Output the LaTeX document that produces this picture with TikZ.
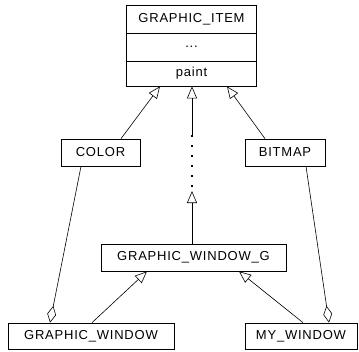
\documentclass[tikz,border=0pt]{standalone}
\usepackage{fontspec}
\setmainfont{Liberation Sans}[LetterSpace=6]
\usetikzlibrary{arrows.meta}
\begin{document}
\begin{tikzpicture}[x=1pt,y=-1pt,
  box/.style={draw,line width=0.7pt,inner sep=0pt,font=\fontsize{13}{15}\selectfont},
  conn/.style={line width=0.6pt},
  inh/.style={conn,-{Triangle[open,length=12pt,width=10pt]}},
  agg/.style={conn,-{Diamond[open,length=17pt,width=9pt]}}]
\useasboundingbox (0,0) rectangle (359,351);
% GRAPHIC_ITEM
\node[box,minimum width=130pt,minimum height=28pt] (gi1) at (191.5,19) {GRAPHIC\_ITEM};
\node[box,minimum width=130pt,minimum height=28pt] (gi2) at (191.5,47) {...};
\node[box,minimum width=130pt,minimum height=25pt] (gi3) at (191.5,73.5) {paint};
% others
\node[box,minimum width=79pt,minimum height=27pt] (color) at (100.5,152.5) {COLOR};
\node[box,minimum width=80pt,minimum height=27pt] (bitmap) at (285,152.5) {BITMAP};
\node[box,minimum width=185pt,minimum height=27pt] (gwg) at (193.5,257.5) {GRAPHIC\_WINDOW\_G};
\node[box,minimum width=166pt,minimum height=26pt] (gw) at (91,336) {GRAPHIC\_WINDOW};
\node[box,minimum width=112pt,minimum height=26pt] (my) at (301,336) {MY\_WINDOW};
% inheritance to GRAPHIC_ITEM
\draw[inh] ([xshift=20.5pt]color.north) -- ([xshift=-31.5pt]gi3.south);
\draw[inh] ([xshift=-20pt]bitmap.north) -- ([xshift=35.5pt]gi3.south);
\coordinate (d1) at (192,135);
\coordinate (d2) at (192,191);
\draw[inh] (d1) -- ([xshift=0.5pt]gi3.south);
\draw[line width=1.6pt,dash pattern=on 1.6pt off 8.4pt] (d1) -- (d2);
\draw[inh] ([xshift=-1.5pt]gwg.north) -- (d2);
% inheritance to GRAPHIC_WINDOW_G
\draw[inh] ([xshift=1pt]gw.north) -- ([xshift=-46.5pt]gwg.south);
\draw[inh] ([xshift=2pt]my.north) -- ([xshift=45.5pt]gwg.south);
% aggregation
\draw[agg] ([xshift=-19.5pt]color.south) -- ([xshift=-41pt]gw.north);
\draw[agg] ([xshift=21pt]bitmap.south) -- ([xshift=28pt]my.north);
\end{tikzpicture}
\end{document}
